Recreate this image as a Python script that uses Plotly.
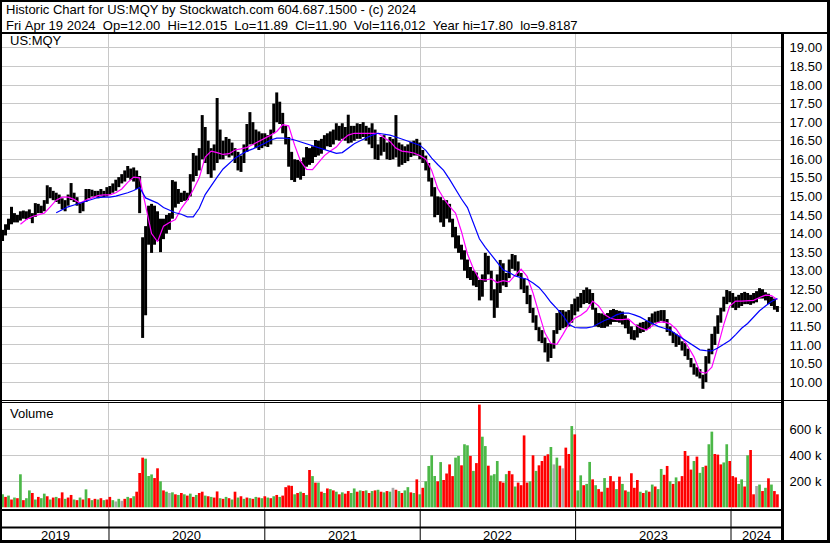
import pandas as pd
import plotly.graph_objects as go

# ---------------- data ----------------
title_line1 = "Historic Chart for US:MQY by Stockwatch.com 604.687.1500 - (c) 2024"
title_line2 = ("Fri Apr 19 2024  Op=12.00  Hi=12.015  Lo=11.89  Cl=11.90  "
               "Vol=116,012  Year hi=17.80  lo=9.8187")
symbol_label = "US:MQY"
volume_label = "Volume"

first_week = "2019-04-26"   # weekly bars, one per week up to 2024-04-19

week_lows = [
    13.80, 13.95, 14.10, 14.25, 14.30, 14.30, 14.35, 14.40, 14.38, 14.40,
    14.28, 14.45, 14.55, 14.55, 14.60, 14.80, 14.95, 14.90, 14.85, 14.80,
    14.65, 14.60, 14.75, 14.90, 14.85, 14.75, 14.55, 14.60, 14.85, 14.95,
    15.00, 14.98, 14.95, 15.00, 14.98, 15.00, 15.05, 15.10, 15.15, 15.25,
    15.35, 15.40, 15.50, 15.45, 15.40, 15.20, 14.55, 11.19, 11.80, 13.70,
    13.48, 13.70, 13.80, 13.50, 13.85, 14.00, 14.10, 14.40, 14.70, 14.80,
    14.85, 14.88, 14.90, 15.00, 15.40, 15.55, 15.70, 16.00, 15.90, 15.60,
    15.50, 15.70, 15.90, 16.00, 16.00, 16.10, 16.05, 16.10, 15.90, 15.70,
    15.66, 15.90, 16.20, 16.40, 16.40, 16.30, 16.25, 16.30, 16.35, 16.33,
    16.40, 16.70, 17.00, 16.95, 16.70, 16.40, 15.80, 15.44, 15.39, 15.50,
    15.45, 15.55, 15.80, 15.85, 15.90, 16.06, 16.10, 16.15, 16.25, 16.35,
    16.33, 16.40, 16.52, 16.50, 16.55, 16.50, 16.43, 16.45, 16.50, 16.55,
    16.55, 16.60, 16.50, 16.40, 16.30, 16.00, 15.98, 16.10, 16.20, 16.00,
    15.98, 16.00, 16.05, 15.80, 15.85, 15.90, 15.95, 16.06, 16.10, 16.10,
    16.00, 15.90, 15.70, 15.40, 15.00, 14.44, 14.50, 14.30, 14.18, 14.40,
    14.30, 13.90, 13.60, 13.48, 13.30, 13.00, 12.80, 12.75, 12.60, 12.56,
    12.20, 12.30, 12.70, 12.90, 12.20, 11.73, 12.00, 12.40, 12.60, 12.56,
    12.80, 13.05, 13.00, 12.85, 12.50, 12.40, 12.10, 11.86, 11.60, 11.40,
    11.10, 11.05, 10.80, 10.55, 10.65, 10.90, 11.30, 11.40, 11.45, 11.48,
    11.50, 11.60, 11.80, 11.90, 12.00, 12.10, 12.13, 12.10, 11.95, 11.50,
    11.48, 11.46, 11.46, 11.50, 11.55, 11.62, 11.62, 11.60, 11.55, 11.45,
    11.30, 11.15, 11.13, 11.20, 11.32, 11.35, 11.40, 11.45, 11.55, 11.60,
    11.62, 11.65, 11.60, 11.35, 11.25, 11.05, 10.95, 11.00, 10.85, 10.70,
    10.60, 10.40, 10.20, 10.15, 10.10, 9.82, 10.00, 10.50, 10.75, 11.00,
    11.30, 11.60, 11.90, 12.10, 12.15, 12.00, 11.94, 12.00, 12.05, 12.10,
    12.10, 12.08, 12.12, 12.15, 12.25, 12.25, 12.20, 12.10, 12.05, 11.95,
    11.89,
]

week_highs = [
    14.10, 14.25, 14.40, 14.72, 14.55, 14.50, 14.60, 14.62, 14.60, 14.65,
    14.55, 14.82, 14.80, 14.75, 14.90, 15.30, 15.25, 15.15, 15.10, 15.05,
    14.95, 14.90, 15.05, 15.36, 15.10, 14.98, 14.85, 14.85, 15.20, 15.20,
    15.18, 15.15, 15.15, 15.20, 15.15, 15.25, 15.28, 15.35, 15.45, 15.52,
    15.60, 15.70, 15.82, 15.75, 15.78, 15.70, 15.55, 13.90, 14.20, 14.75,
    14.80, 14.75, 14.60, 14.40, 14.40, 14.50, 14.55, 15.44, 15.40, 15.20,
    15.10, 15.15, 15.10, 15.60, 16.17, 16.10, 16.30, 17.19, 16.87, 16.50,
    16.30, 16.40, 17.65, 16.80, 16.50, 16.60, 16.55, 16.45, 16.30, 16.20,
    16.10, 16.40, 16.95, 17.27, 17.00, 16.80, 16.75, 16.70, 16.70, 16.65,
    16.80, 17.50, 17.80, 17.55, 17.25, 16.90, 16.60, 16.20, 16.00, 15.98,
    15.95, 16.05, 16.33, 16.30, 16.35, 16.52, 16.50, 16.55, 16.65, 16.70,
    16.75, 16.80, 16.97, 16.90, 16.97, 16.87, 17.20, 16.90, 16.90, 16.97,
    16.95, 17.00, 16.90, 16.85, 16.97, 16.80, 16.40, 16.60, 16.65, 16.45,
    16.60, 16.55, 17.19, 16.45, 16.40, 16.35, 16.40, 16.47, 16.50, 16.55,
    16.45, 16.25, 16.10, 15.90, 15.50, 15.25, 15.00, 14.98, 14.90, 14.90,
    14.80, 14.40, 14.18, 13.95, 13.70, 13.55, 13.30, 13.10, 13.00, 12.95,
    12.75, 12.90, 13.48, 13.40, 13.00, 12.50, 12.90, 13.29, 13.20, 12.94,
    13.30, 13.45, 13.42, 13.25, 12.94, 12.80, 12.60, 12.35, 12.00, 11.80,
    11.48, 11.40, 11.20, 11.05, 11.05, 11.40, 11.86, 11.94, 11.94, 11.90,
    11.94, 12.10, 12.25, 12.30, 12.40, 12.48, 12.55, 12.50, 12.40, 12.00,
    11.86, 11.85, 11.82, 11.86, 11.94, 11.97, 11.94, 11.92, 11.90, 11.80,
    11.70, 11.50, 11.40, 11.55, 11.60, 11.62, 11.65, 11.75, 11.85, 11.90,
    11.92, 11.94, 11.94, 11.70, 11.50, 11.35, 11.30, 11.25, 11.10, 11.05,
    10.90, 10.65, 10.50, 10.40, 10.35, 10.20, 10.70, 10.90, 11.30, 11.50,
    11.80, 12.00, 12.30, 12.48, 12.45, 12.40, 12.30, 12.35, 12.40, 12.43,
    12.40, 12.35, 12.40, 12.45, 12.53, 12.50, 12.42, 12.38, 12.30, 12.25,
    12.05,
]

# weekly volume, thousands of shares
week_volume_k = [
    100, 80, 90, 60, 75, 70, 254, 55, 70, 130,
    110, 60, 80, 70, 105, 85, 60, 75, 80, 70,
    115, 65, 75, 95, 60, 55, 75, 60, 138, 70,
    55, 65, 60, 70, 55, 60, 80, 55, 45, 65,
    50, 65, 80, 70, 85, 120, 264, 382, 374, 241,
    253, 225, 300, 200, 130, 120, 110, 115, 100, 95,
    110, 100, 90, 105, 80, 95, 110, 120, 90, 85,
    80, 75, 122, 70, 65, 80, 70, 60, 120, 75,
    85, 65, 75, 70, 65, 80, 75, 70, 85, 75,
    70, 85, 95, 80, 90, 155, 168, 165, 100, 110,
    120, 110, 95, 287, 240, 190, 190, 120, 110, 145,
    140, 130, 120, 100, 115, 105, 125, 110, 145, 120,
    130, 125, 130, 110, 125, 130, 135, 120, 115, 125,
    120, 150, 135, 125, 110, 130, 155, 115, 110, 215,
    100, 150, 200, 318, 400, 241, 200, 348, 210, 260,
    330, 240, 382, 395, 323, 485, 477, 395, 280, 340,
    790, 543, 471, 320, 245, 255, 356, 200, 190, 255,
    280, 254, 160, 190, 170, 553, 190, 200, 400, 280,
    323, 356, 395, 408, 464, 330, 382, 320, 300, 459,
    410, 625, 561, 130, 246, 170, 180, 349, 215, 170,
    140, 120, 225, 150, 240, 200, 140, 236, 180, 130,
    120, 262, 150, 210, 120, 110, 130, 120, 175, 160,
    140, 295, 250, 318, 200, 180, 230, 200, 240, 433,
    395, 290, 356, 390, 265, 310, 320, 485, 582, 410,
    405, 330, 345, 485, 356, 240, 230, 180, 215, 160,
    400, 441, 100, 164, 175, 125, 150, 223, 175, 125,
    100,
]

# g = up day, r = down day, n = unchanged
week_direction = (
    "g r g r g r g r g g "
    "r g r g g r g r g r "
    "r g r r g r g r g r "
    "g r g r g r r g n g "
    "n r g r g r r r g g "
    "g r r g r g n g r g "
    "r g r g r g r r g r "
    "g r r g r g r g r g "
    "r g r g r g r g r g "
    "r g r g r r r r g r "
    "g r g r g r g r g r "
    "g r g r g r r g g r "
    "g r g r g r g r g r "
    "g n r g r g g r g r "
    "g r g g g g r g r r "
    "r r g g r g g r g r "
    "r g g r g g g r r g "
    "r r g r r r r g r g "
    "r r r r g n g r n r "
    "r g r g g r g g r g "
    "r r g r r r g r g r "
    "g r r r g r g r g r "
    "g g r r g r g r r r "
    "r r g r g g r g g r "
    "r r g g r r r g g r "
    "g r r n g r g r g r "
    "r"
).split()

# moving averages (magenta = short, blue = long), one value every second week
short_ma_first_week_index = 6
short_ma = [
    14.25, 14.38, 14.46, 14.50, 14.55, 14.72, 14.90, 14.98, 14.98, 14.92,
    14.82, 14.90, 14.97, 15.02, 15.04, 15.04, 15.10, 15.20, 15.38, 15.52,
    15.50, 14.70, 14.00, 13.78, 14.20, 14.30, 14.38, 14.68, 14.90, 15.18,
    15.50, 16.06, 16.22, 16.18, 16.13, 16.15, 16.25, 16.28, 16.32, 16.40,
    16.48, 16.56, 16.65, 16.75, 16.93, 16.90, 16.38, 15.95, 15.73, 15.72,
    15.90, 16.10, 16.22, 16.33, 16.52, 16.65, 16.70, 16.70, 16.70, 16.72,
    16.70, 16.58, 16.48, 16.30, 16.22, 16.20, 16.17, 16.10, 16.00, 15.70,
    15.22, 14.95, 14.73, 14.55, 14.05, 13.45, 13.05, 12.77, 12.75, 12.78,
    12.68, 12.73, 12.70, 12.88, 13.04, 12.85, 12.40, 11.85, 11.32, 11.04,
    11.02, 11.28, 11.56, 11.72, 11.80, 11.92, 12.18, 12.05, 11.82, 11.72,
    11.68, 11.68, 11.70, 11.56, 11.46, 11.40, 11.52, 11.61, 11.62, 11.57,
    11.43, 11.20, 10.96, 10.68, 10.28, 10.24, 10.40, 10.95, 11.55, 12.05,
    12.18, 12.18, 12.19, 12.20, 12.28, 12.34, 12.33, 12.22,
]

long_ma_first_week_index = 18
long_ma = [
    14.56, 14.65, 14.72, 14.77, 14.82, 14.88, 14.93, 14.97, 14.98, 14.98,
    15.01, 15.05, 15.10, 15.16, 15.24, 14.96, 14.89, 14.82, 14.70, 14.62,
    14.56, 14.52, 14.45, 14.45, 14.68, 15.05, 15.30, 15.52, 15.74, 15.88,
    16.03, 16.13, 16.22, 16.28, 16.35, 16.43, 16.52, 16.57, 16.57, 16.56,
    16.52, 16.47, 16.42, 16.35, 16.30, 16.25, 16.20, 16.16, 16.18, 16.30,
    16.42, 16.50, 16.58, 16.65, 16.70, 16.68, 16.65, 16.60, 16.55, 16.49,
    16.44, 16.38, 16.24, 16.03, 15.86, 15.70, 15.46, 15.18, 14.93, 14.70,
    14.28, 13.86, 13.63, 13.43, 13.20, 13.02, 12.95, 12.86, 12.81, 12.77,
    12.67, 12.55, 12.36, 12.15, 11.98, 11.80, 11.56, 11.47, 11.46, 11.46,
    11.49, 11.58, 11.66, 11.72, 11.81, 11.86, 11.86, 11.81, 11.75, 11.66,
    11.57, 11.50, 11.45, 11.40, 11.29, 11.18, 11.08, 10.98, 10.87, 10.85,
    10.84, 10.92, 11.02, 11.12, 11.28, 11.45, 11.58, 11.75, 11.92, 12.05,
    12.17, 12.25,
]

year_labels = ["2019", "2020", "2021", "2022", "2023", "2024"]
year_starts = ["2020-01-01", "2021-01-01", "2022-01-01", "2023-01-01", "2024-01-01"]
volume_tick_values = [200000, 400000, 600000]
volume_tick_text = ["200 k", "400 k", "600 k"]

# ---------------- styling / geometry ----------------
W, H = 830, 543
ML, MR, MT, MB = 2, 48, 34, 33
PLOT_W = W - ML - MR
PLOT_H = H - MT - MB
X_RANGE = ["2019-04-24 17:00", "2024-04-29 19:00"]
FONT = "Liberation Sans, Arial, sans-serif"
GRID = "#c8c8c8"
GREEN = "#4cb848"
RED = "#ff0000"
GREY = "#a8a8a8"
DAY_MS = 86400000


def px_x(px):
    return (px - ML) / PLOT_W


def px_y(py):
    return (H - MB - py) / PLOT_H


week_dates = pd.date_range(first_week, periods=len(week_lows), freq="7D")
n = min(len(week_lows), len(week_highs))
bar_len = [week_highs[i] - week_lows[i] for i in range(n)]

nv = min(len(week_volume_k), len(week_direction), len(week_dates))
dir_colors = {"g": GREEN, "r": RED, "n": GREY}
vol_colors = [dir_colors[d] for d in week_direction[:nv]]
vol_values = [v * 1000 for v in week_volume_k[:nv]]

short_dates = week_dates[short_ma_first_week_index::2][:len(short_ma)]
long_dates = week_dates[long_ma_first_week_index::2][:len(long_ma)]

fig = go.Figure()
fig.add_trace(go.Bar(
    x=week_dates[:n], y=bar_len, base=week_lows[:n],
    width=7.0 * DAY_MS, marker=dict(color="black", line=dict(width=0)),
    yaxis="y", xaxis="x", hoverinfo="skip",
))
fig.add_trace(go.Scatter(
    x=short_dates, y=short_ma[:len(short_dates)], mode="lines",
    line=dict(color="#ff00ff", width=1.2), yaxis="y", hoverinfo="skip",
))
fig.add_trace(go.Scatter(
    x=long_dates, y=long_ma[:len(long_dates)], mode="lines",
    line=dict(color="#0000ff", width=1.2), yaxis="y", hoverinfo="skip",
))
fig.add_trace(go.Bar(
    x=week_dates[:nv], y=vol_values,
    width=6.3 * DAY_MS, marker=dict(color=vol_colors, line=dict(width=0)),
    yaxis="y2", xaxis="x", hoverinfo="skip",
))

price_top = 18 + (85 - MT) / 37.14
price_bottom = 18 - (400 - 85) / 37.14
vol_per_px = 200000 / 26.0
vol_zero_px = 507.3
vol_top = (vol_zero_px - 403) * vol_per_px
vol_bottom = -(H - MB - vol_zero_px) * vol_per_px

fig.update_layout(
    width=W, height=H,
    margin=dict(l=ML, r=MR, t=MT, b=MB, pad=0),
    paper_bgcolor="black", plot_bgcolor="white",
    showlegend=False, barmode="overlay", hovermode=False,
    font=dict(family=FONT, size=13, color="black"),
    xaxis=dict(
        type="date", range=X_RANGE, anchor="y2",
        tickmode="array", tickvals=year_starts, showticklabels=False,
        ticks="", showgrid=True, gridcolor=GRID, gridwidth=1,
        showline=False, zeroline=False, fixedrange=True,
    ),
    yaxis=dict(
        domain=[px_y(400), 1.0], range=[price_bottom, price_top],
        side="right", anchor="x", dtick=0.5, tick0=10, tickformat=".2f",
        ticks="outside", ticklen=4, tickcolor="rgba(0,0,0,0)",
        tickfont=dict(size=13, family=FONT, color="black"),
        showgrid=True, gridcolor=GRID, gridwidth=1,
        showline=False, zeroline=False, fixedrange=True,
    ),
    yaxis2=dict(
        domain=[0.0, px_y(403)], range=[vol_bottom, vol_top],
        side="right", anchor="x",
        tickmode="array", tickvals=volume_tick_values, ticktext=volume_tick_text,
        ticks="outside", ticklen=4, tickcolor="rgba(0,0,0,0)",
        tickfont=dict(size=13, family=FONT, color="black"),
        showgrid=True, gridcolor=GRID, gridwidth=1,
        showline=False, zeroline=False, fixedrange=True,
    ),
)

shapes = []


def box(x0px, y0px, x1px, y1px, color="black", layer="above"):
    """filled rectangle given in page pixels"""
    shapes.append(dict(type="rect", xref="paper", yref="paper",
                       x0=px_x(x0px), x1=px_x(x1px), y0=px_y(y1px), y1=px_y(y0px),
                       line=dict(width=0), fillcolor=color, layer=layer))


# white panels over the black page; what stays black forms the frame lines
box(2, 2, 827, 32, "white", "below")        # header
box(784, 34, 827, 400, "white", "below")    # price label column
box(784, 401, 827, 540, "white", "below")   # volume label column
box(2, 401, 782, 402, "white", "below")     # gap in the double line
box(2, 511, 781, 526.5, "white", "below")   # empty strip
box(2, 528.5, 781, 540, "white", "below")   # year label strip
# frame lines inside the page
box(781, 33, 784, H)
box(0, 509, 783, 511)
# year dividers in the date strip
for ys in year_starts:
    shapes.append(dict(type="line", xref="x", yref="paper",
                       x0=ys, x1=ys, y0=px_y(510), y1=px_y(541),
                       line=dict(color="black", width=1)))
fig.update_layout(shapes=shapes)

ann = []
nb = "\u00a0"
ann.append(dict(text=title_line1, xref="paper", yref="paper", x=px_x(4), y=px_y(10),
                xanchor="left", yanchor="middle", showarrow=False,
                font=dict(size=13, family=FONT, color="black")))
ann.append(dict(text=title_line2.replace(" ", nb), xref="paper", yref="paper",
                x=px_x(4), y=px_y(25), xanchor="left", yanchor="middle", showarrow=False,
                font=dict(size=13, family=FONT, color="black")))
ann.append(dict(text=symbol_label, xref="paper", yref="paper", x=px_x(8), y=px_y(41),
                xanchor="left", yanchor="middle", showarrow=False,
                font=dict(size=13, family=FONT, color="black")))
ann.append(dict(text=volume_label, xref="paper", yref="paper", x=px_x(8), y=px_y(413),
                xanchor="left", yanchor="middle", showarrow=False,
                font=dict(size=13, family=FONT, color="black")))

# year labels centred in each year's span of the axis
bounds = [pd.Timestamp(X_RANGE[0])] + [pd.Timestamp(s) for s in year_starts] + [pd.Timestamp(X_RANGE[1])]
for k, lab in enumerate(year_labels):
    mid = bounds[k] + (bounds[k + 1] - bounds[k]) / 2
    ann.append(dict(text=lab, xref="x", yref="paper", x=mid, y=px_y(535),
                    xanchor="center", yanchor="middle", showarrow=False,
                    font=dict(size=13, family=FONT, color="black")))
fig.update_layout(annotations=ann)

fig.write_html(
    "out.html",
    config={"displayModeBar": False, "staticPlot": True},
    post_script="document.body.style.margin='0';document.body.style.overflow='hidden';",
)
